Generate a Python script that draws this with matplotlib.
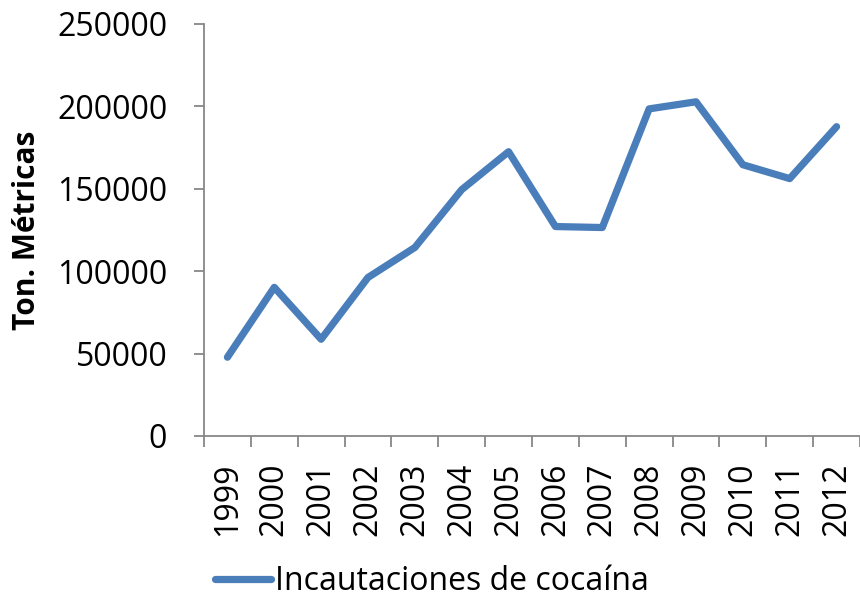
import matplotlib
matplotlib.use("Agg")
import matplotlib.pyplot as plt
from matplotlib.lines import Line2D

years = ["1999", "2000", "2001", "2002", "2003", "2004", "2005",
         "2006", "2007", "2008", "2009", "2010", "2011", "2012"]
incautaciones = [47800, 90200, 58700, 96200, 114400, 149500, 172500,
                 127100, 126500, 198500, 202800, 164600, 156200, 187700]
yticks = [0, 50000, 100000, 150000, 200000, 250000]
series_label = "Incautaciones de cocaína"
ylabel = "Ton. Métricas"

plt.rcParams['font.family'] = ['Open Sans', 'DejaVu Sans']
W, H = 860, 597
fig = plt.figure(figsize=(W / 100, H / 100), dpi=100)
ax = fig.add_axes([204 / W, 1 - 436 / H, (860 - 204) / W, (436 - 24) / H])

x = list(range(len(years)))
color = '#4A7EBB'
ax.plot(x, incautaciones, color=color, lw=5.2, solid_capstyle='round',
        solid_joinstyle='round')

ax.set_xlim(-0.5, len(years) - 0.5)
ax.set_ylim(0, 250000)
ax.set_yticks(yticks)
ax.set_yticklabels([str(v) for v in yticks])
ax.set_xticks(x)
ax.set_xticklabels(years, rotation=90)
ax.set_xticks([i - 0.5 for i in range(len(years) + 1)], minor=True)

axis_color = '#878787'
for s in ['top', 'right']:
    ax.spines[s].set_visible(False)
for s in ['left', 'bottom']:
    ax.spines[s].set_color(axis_color)
    ax.spines[s].set_linewidth(1.3)

ax.tick_params(axis='y', direction='out', length=7.5, width=1.3, color=axis_color,
               labelsize=23, pad=19, labelcolor='black')
ax.tick_params(axis='x', which='major', length=0, labelsize=23, pad=19,
               labelcolor='black')
ax.tick_params(axis='x', which='minor', direction='out', length=8, width=1.3,
               color=axis_color)

fig.text(27 / W, 1 - 230 / H, ylabel, rotation=90, ha='center', va='center',
         fontsize=21.5, fontweight='bold')

handle = Line2D([0], [0], color=color, lw=5.2, solid_capstyle='round')
fig.legend([handle], [series_label], loc='center', bbox_to_anchor=(432 / W, 1 - 582 / H),
           frameon=False, fontsize=23, handlelength=1.75, handletextpad=0.12,
           borderpad=0, borderaxespad=0)

fig.savefig("out.png", dpi=100)
